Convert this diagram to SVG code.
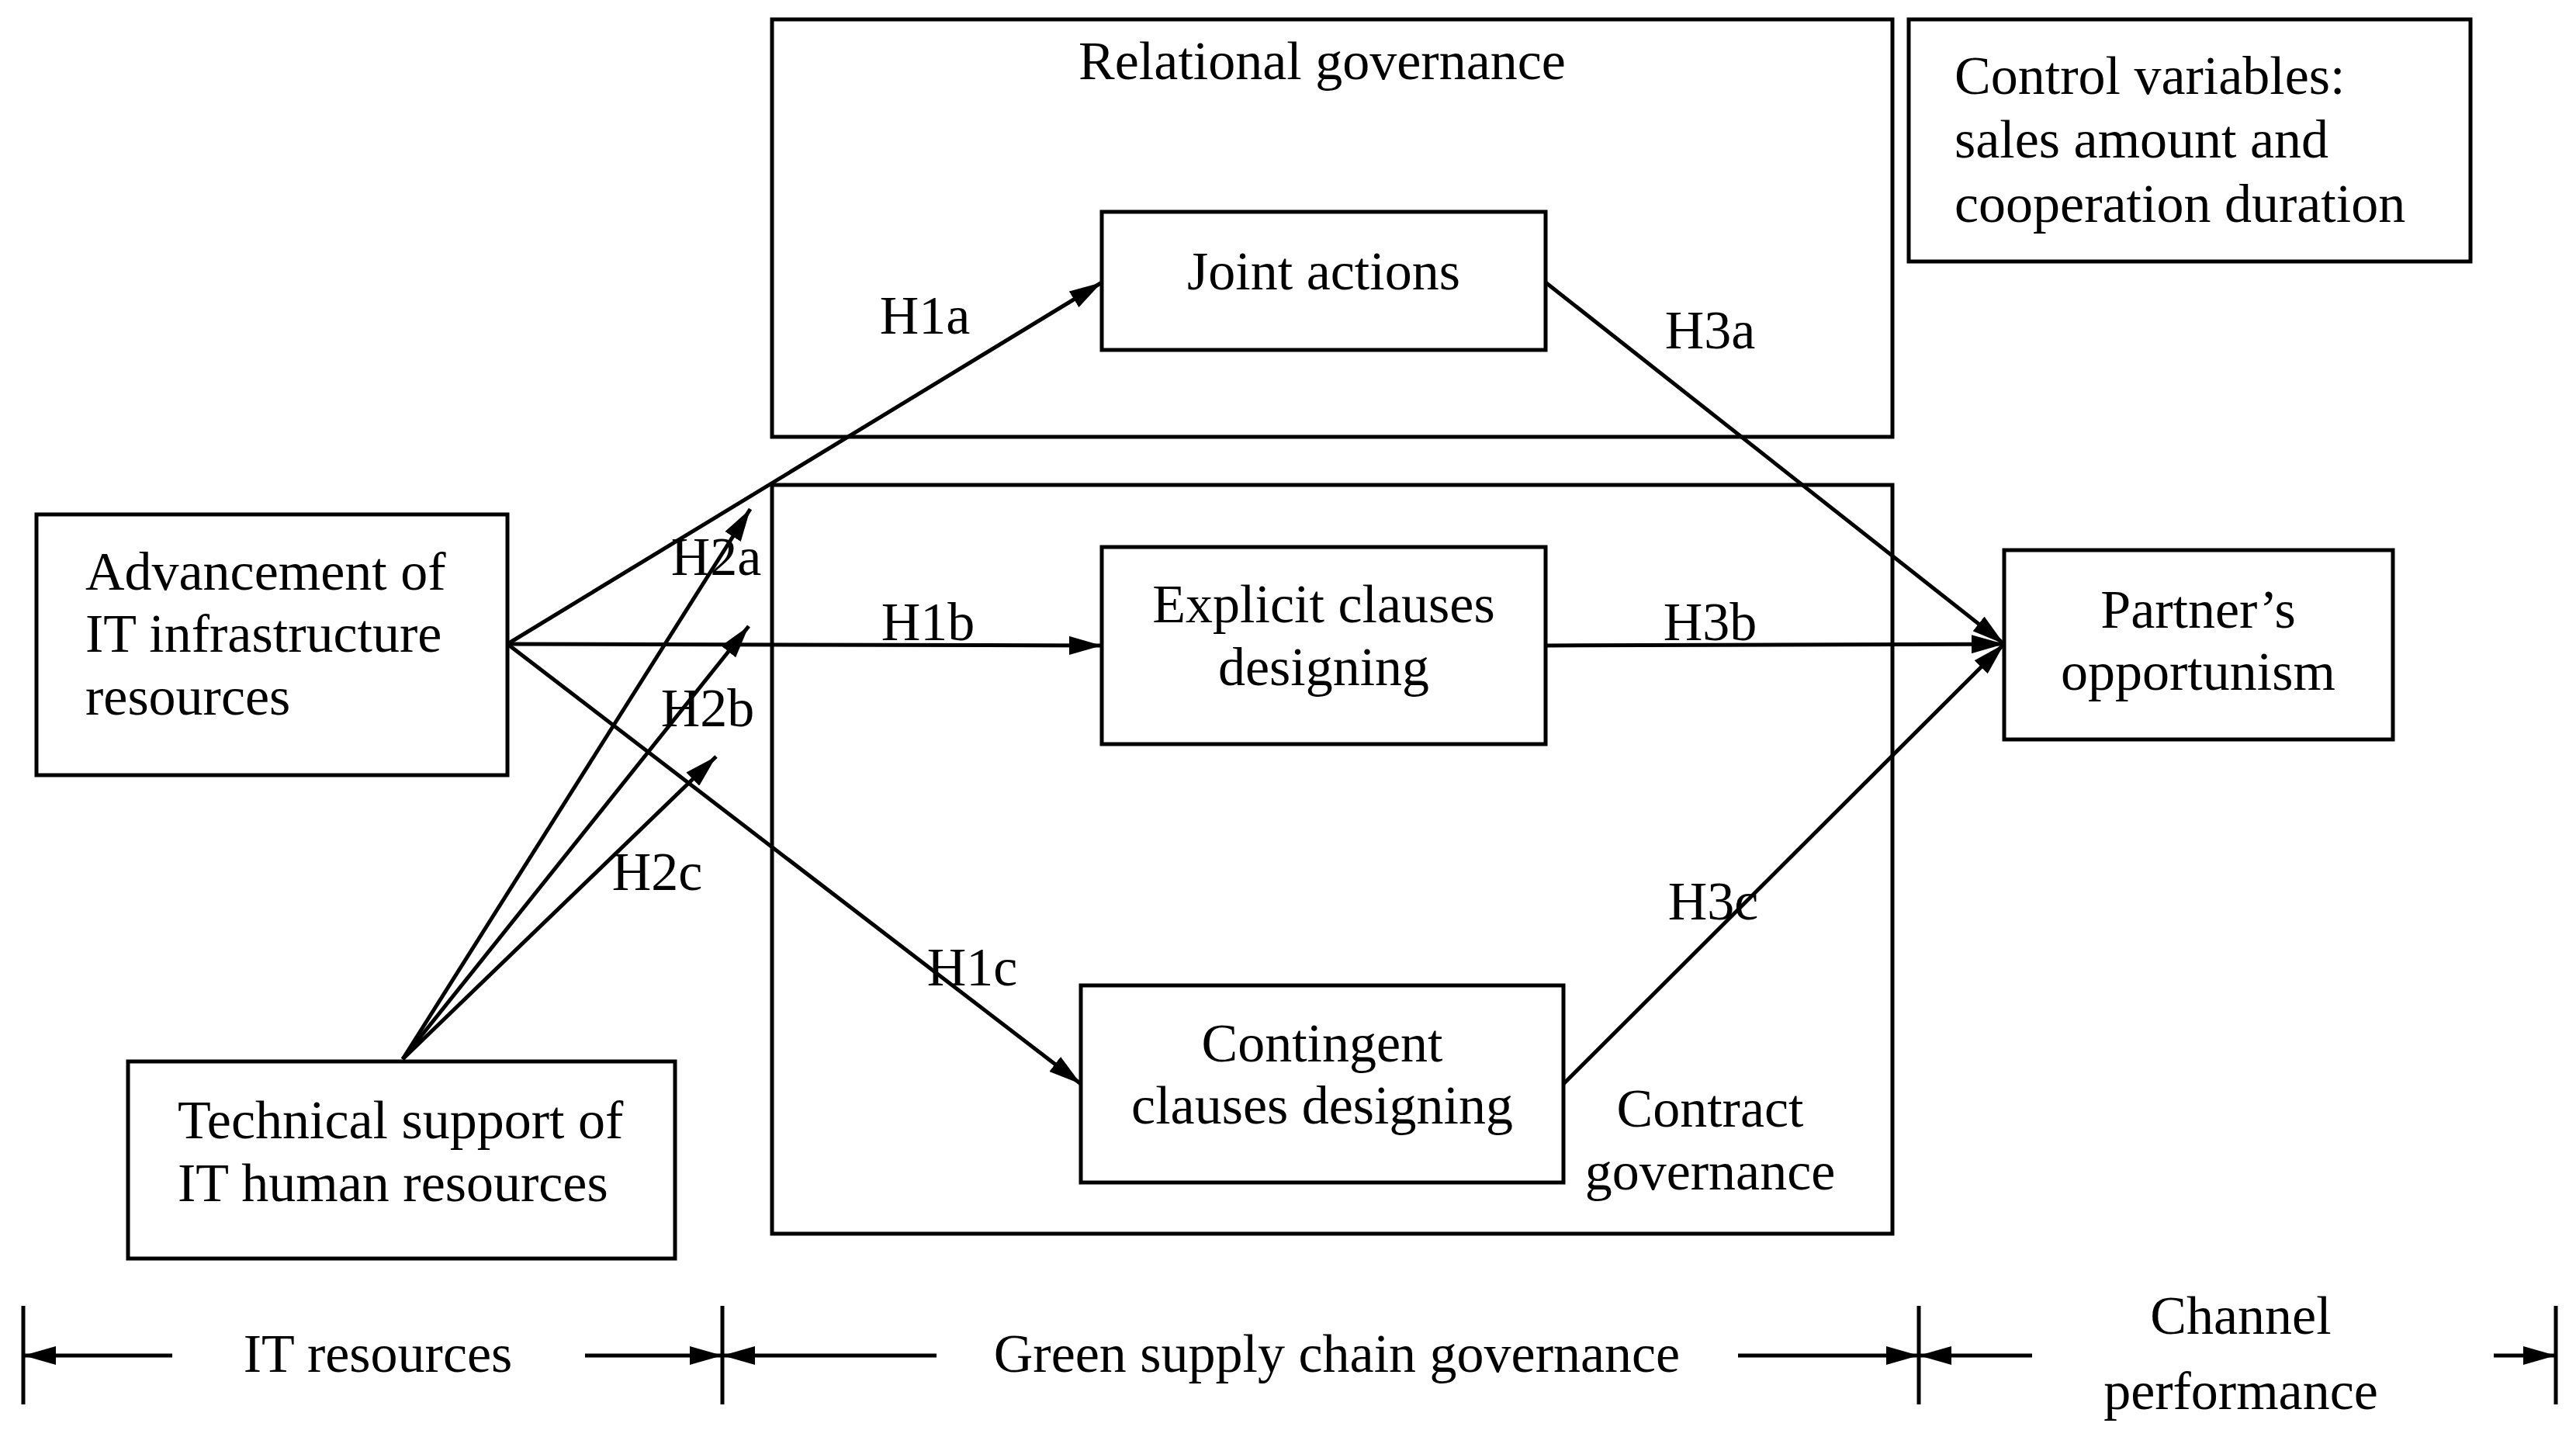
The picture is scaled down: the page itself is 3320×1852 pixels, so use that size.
<svg xmlns="http://www.w3.org/2000/svg" width="3320" height="1852" viewBox="0 0 3320 1852">
<defs>
<marker id="ah" markerUnits="userSpaceOnUse" markerWidth="44" markerHeight="24" refX="42" refY="12" orient="auto"><path d="M0,0 L42,12 L0,24 Z" fill="#000"/></marker>
<style>
text{font-family:"Liberation Serif","Times New Roman",serif;font-size:70px;fill:#000}
.m{text-anchor:middle}
.b{fill:none;stroke:#000;stroke-width:5}
.c{fill:none;stroke:#000;stroke-width:5}
.a{marker-end:url(#ah)}
</style>
</defs>
<rect width="3320" height="1852" fill="#fff"/>
<g id="relational"><rect class="b" x="995" y="25" width="1444" height="538"/><text class="m" x="1704" y="102">Relational governance</text></g>
<g id="control"><rect class="b" x="2460" y="25" width="724" height="312"/><text x="2519" y="121">Control variables:</text><text x="2519" y="203">sales amount and</text><text x="2519" y="286">cooperation duration</text></g>
<g id="contract"><rect class="b" x="995" y="625" width="1444" height="965"/><text class="m" x="2204" y="1452">Contract</text><text class="m" x="2204" y="1533">governance</text></g>
<g id="joint"><rect class="b" x="1420" y="273" width="572" height="178"/><text class="m" x="1706" y="373">Joint actions</text></g>
<g id="explicit"><rect class="b" x="1420" y="705" width="572" height="254"/><text class="m" x="1706" y="802">Explicit clauses</text><text class="m" x="1706" y="883">designing</text></g>
<g id="contingent"><rect class="b" x="1393" y="1270" width="622" height="254"/><text class="m" x="1704" y="1368">Contingent</text><text class="m" x="1704" y="1448">clauses designing</text></g>
<g id="partner"><rect class="b" x="2583" y="709" width="501" height="244"/><text class="m" x="2833" y="809">Partner’s</text><text class="m" x="2833" y="889">opportunism</text></g>
<g id="advancement"><rect class="b" x="47" y="663" width="607" height="336"/><text x="110" y="760">Advancement of</text><text x="110" y="840">IT infrastructure</text><text x="110" y="921">resources</text></g>
<g id="technical"><rect class="b" x="165" y="1368" width="705" height="254"/><text x="229" y="1467">Technical support of</text><text x="229" y="1548">IT human resources</text></g>
<g id="connectors">
<line class="c a" x1="654" y1="830" x2="1420" y2="364"/>
<line class="c a" x1="654" y1="830" x2="1420" y2="832"/>
<line class="c a" x1="654" y1="830" x2="1393" y2="1397"/>
<line class="c a" x1="519" y1="1365" x2="967" y2="656"/>
<line class="c a" x1="519" y1="1365" x2="965" y2="807"/>
<line class="c a" x1="519" y1="1365" x2="923" y2="975"/>
<line class="c a" x1="1992" y1="364" x2="2583" y2="830"/>
<line class="c a" x1="1992" y1="832" x2="2583" y2="830"/>
<line class="c a" x1="2015" y1="1397" x2="2583" y2="830"/>
</g>
<g id="labels">
<text class="m" x="1192" y="430">H1a</text>
<text class="m" x="2204" y="449">H3a</text>
<text class="m" x="923" y="741">H2a</text>
<text class="m" x="1196" y="825">H1b</text>
<text class="m" x="2204" y="825">H3b</text>
<text class="m" x="912" y="936">H2b</text>
<text class="m" x="847" y="1147">H2c</text>
<text class="m" x="2208" y="1185">H3c</text>
<text class="m" x="1253" y="1270">H1c</text>
</g>
<g id="scale">
<line class="c" x1="30" y1="1683" x2="30" y2="1810"/>
<line class="c" x1="931" y1="1683" x2="931" y2="1810"/>
<line class="c" x1="2473" y1="1683" x2="2473" y2="1810"/>
<line class="c" x1="3294" y1="1683" x2="3294" y2="1810"/>
<line class="c a" x1="222" y1="1747" x2="30" y2="1747"/>
<line class="c a" x1="754" y1="1747" x2="931" y2="1747"/>
<line class="c a" x1="1207" y1="1747" x2="931" y2="1747"/>
<line class="c a" x1="2240" y1="1747" x2="2473" y2="1747"/>
<line class="c a" x1="2619" y1="1747" x2="2473" y2="1747"/>
<line class="c a" x1="3214" y1="1747" x2="3294" y2="1747"/>
<text class="m" x="487" y="1768">IT resources</text>
<text class="m" x="1723" y="1768">Green supply chain governance</text>
<text class="m" x="2888" y="1719">Channel</text>
<text class="m" x="2888" y="1816">performance</text>
</g>
</svg>
